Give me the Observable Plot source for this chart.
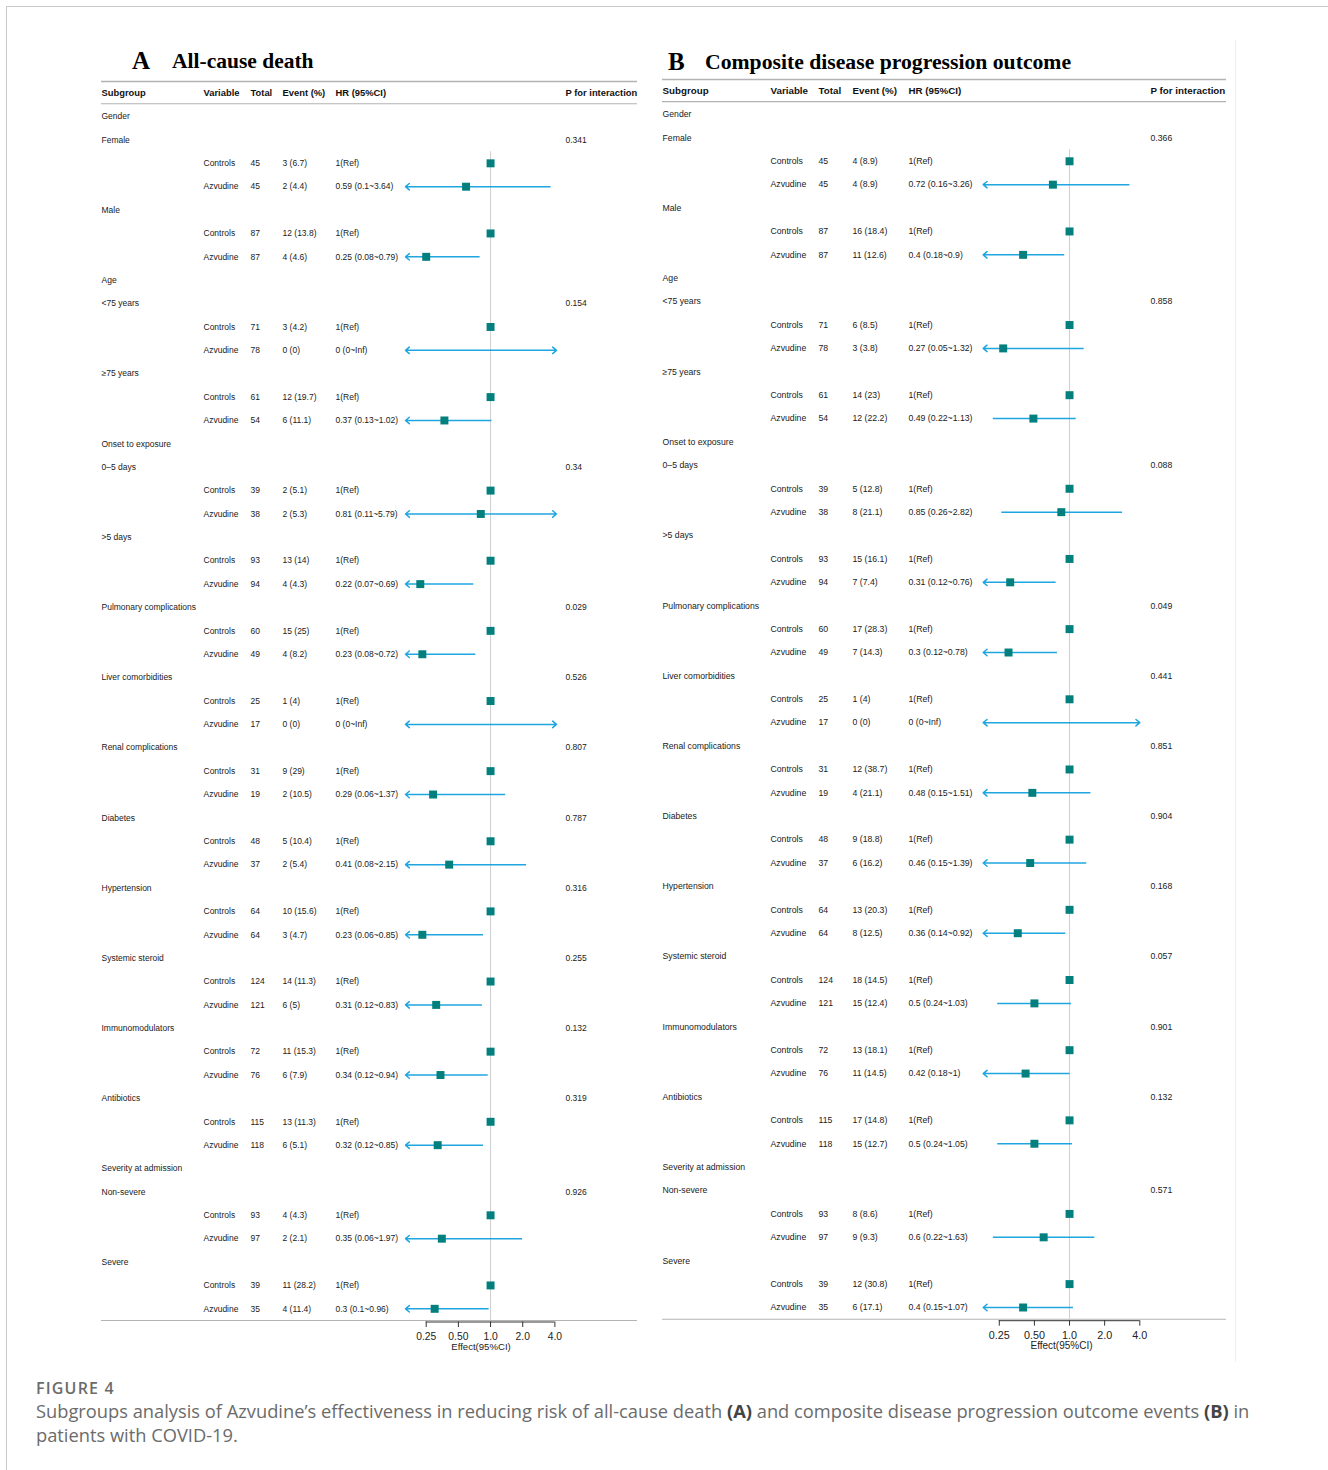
<!DOCTYPE html>
<html>
<head>
<meta charset="utf-8">
<script src="https://cdn.jsdelivr.net/npm/d3@7"></script>
<script src="https://cdn.jsdelivr.net/npm/@observablehq/plot@0.6"></script>
<style>
  html, body { margin: 0; padding: 0; background: #fff; }
  body { width: 1328px; height: 1470px; position: relative; overflow: hidden; }
  .abs { position: absolute; }
  .ttl { font-family: "Liberation Serif", "Times New Roman", serif; font-weight: bold; color: #000; white-space: nowrap; line-height: 1; }
  .cap { font-family: "Open Sans", "Noto Sans", sans-serif; color: #6b6b6b; white-space: nowrap; }
  .cap b { color: #444; font-weight: 700; }
</style>
</head>
<body>
<div class="abs" style="left:6px;top:6px;right:-2px;bottom:-2px;border-top:1.5px solid #c9c9c9;border-left:1.5px solid #c9c9c9;"></div>
<div class="abs" style="left:1235px;top:40px;width:1px;height:1322px;background:#eeeeee;"></div>

<div class="abs ttl" style="left:132px;top:48px;font-size:25px;">A</div>
<div class="abs ttl" style="left:172px;top:51px;font-size:21.5px;">All-cause death</div>
<div class="abs ttl" style="left:668px;top:49px;font-size:25px;">B</div>
<div class="abs ttl" style="left:705px;top:52px;font-size:21.7px;">Composite disease progression outcome</div>

<div id="pA" class="abs" style="left:95px;top:70px;"></div>
<div id="pB" class="abs" style="left:655px;top:68px;"></div>

<div class="abs cap" style="left:36px;top:1377px;font-size:16px;font-weight:600;letter-spacing:1.2px;">FIGURE 4</div>
<div class="abs cap" style="left:36px;top:1399px;font-size:18.3px;line-height:24px;">Subgroups analysis of Azvudine’s effectiveness in reducing risk of all-cause death <b>(A)</b> and composite disease progression outcome events <b>(B)</b> in<br>patients with COVID-19.</div>

<script>
// ---------- DATA ----------
const rowLabels = ["Gender","Female","","","Male","","","Age","<75 years","","","≥75 years","","",
  "Onset to exposure","0–5 days","","",">5 days","","","Pulmonary complications","","",
  "Liver comorbidities","","","Renal complications","","","Diabetes","","","Hypertension","","",
  "Systemic steroid","","","Immunomodulators","","","Antibiotics","","",
  "Severity at admission","Non-severe","","","Severe","",""];
const arms = ["Controls","Azvudine"];
const totals = [45,45,87,87,71,78,61,54,39,38,93,94,60,49,25,17,31,19,48,37,64,64,124,121,72,76,115,118,93,97,39,35];
const pRowNames = ["Female","<75 years","0–5 days","Pulmonary complications","Liver comorbidities","Renal complications",
  "Diabetes","Hypertension","Systemic steroid","Immunomodulators","Antibiotics","Non-severe"];
const headerLabels = ["Subgroup","Variable","Total","Event (%)","HR (95%CI)","P for interaction"];
const tickValues = [0.25, 0.5, 1, 2, 4];
const tickLabels = ["0.25","0.50","1.0","2.0","4.0"];
const axisLabel = "Effect(95%CI)";

// Panel A: all-cause death
const eventsA = ["3 (6.7)","2 (4.4)","12 (13.8)","4 (4.6)","3 (4.2)","0 (0)","12 (19.7)","6 (11.1)","2 (5.1)","2 (5.3)",
  "13 (14)","4 (4.3)","15 (25)","4 (8.2)","1 (4)","0 (0)","9 (29)","2 (10.5)","5 (10.4)","2 (5.4)","10 (15.6)","3 (4.7)",
  "14 (11.3)","6 (5)","11 (15.3)","6 (7.9)","13 (11.3)","6 (5.1)","4 (4.3)","2 (2.1)","11 (28.2)","4 (11.4)"];
const hrA = [0.59,0.25,0,0.37,0.81,0.22,0.23,0,0.29,0.41,0.23,0.31,0.34,0.32,0.35,0.3];
const loA = [0.1,0.08,0,0.13,0.11,0.07,0.08,0,0.06,0.08,0.06,0.12,0.12,0.12,0.06,0.1];
const hiA = [3.64,0.79,Infinity,1.02,5.79,0.69,0.72,Infinity,1.37,2.15,0.85,0.83,0.94,0.85,1.97,0.96];
const pA = ["0.341","0.154","0.34","0.029","0.526","0.807","0.787","0.316","0.255","0.132","0.319","0.926"];

// Panel B: composite disease progression outcome
const eventsB = ["4 (8.9)","4 (8.9)","16 (18.4)","11 (12.6)","6 (8.5)","3 (3.8)","14 (23)","12 (22.2)","5 (12.8)","8 (21.1)",
  "15 (16.1)","7 (7.4)","17 (28.3)","7 (14.3)","1 (4)","0 (0)","12 (38.7)","4 (21.1)","9 (18.8)","6 (16.2)","13 (20.3)","8 (12.5)",
  "18 (14.5)","15 (12.4)","13 (18.1)","11 (14.5)","17 (14.8)","15 (12.7)","8 (8.6)","9 (9.3)","12 (30.8)","6 (17.1)"];
const hrB = [0.72,0.4,0.27,0.49,0.85,0.31,0.3,0,0.48,0.46,0.36,0.5,0.42,0.5,0.6,0.4];
const loB = [0.16,0.18,0.05,0.22,0.26,0.12,0.12,0,0.15,0.15,0.14,0.24,0.18,0.24,0.22,0.15];
const hiB = [3.26,0.9,1.32,1.13,2.82,0.76,0.78,Infinity,1.51,1.39,0.92,1.03,1,1.05,1.63,1.07];
const pB = ["0.366","0.858","0.088","0.049","0.441","0.851","0.904","0.168","0.057","0.901","0.132","0.571"];

// ---------- BUILD ----------
const fmt = v => v === Infinity ? "Inf" : String(v);

function buildRows(events, hr, lo, hi, pvals) {
  const rows = [];
  let k = 0;
  rowLabels.forEach((lab, i) => {
    if (lab !== "") {
      const pi = pRowNames.indexOf(lab);
      rows.push({y: i, sub: lab, arm: "", total: "", event: "", hrText: "", p: pi >= 0 ? pvals[pi] : "", isArm: false});
    } else {
      const ctrl = k % 2 === 0, j = Math.floor(k / 2);
      const est = ctrl ? 1 : hr[j], l = ctrl ? 1 : lo[j], h = ctrl ? 1 : hi[j];
      rows.push({y: i, sub: "", arm: arms[k % 2], total: String(totals[k]), event: events[k],
        hrText: ctrl ? "1(Ref)" : `${fmt(est)} (${fmt(l)}~${fmt(h)})`, p: "", est, lo: l, hi: h, isArm: true, ctrl});
      k++;
    }
  });
  return rows;
}

function panel(cfg) {
  const rows = buildRows(cfg.events, cfg.hr, cfg.lo, cfg.hi, cfg.p);
  const [xmin, xmax] = cfg.domain;
  const pts = rows.filter(r => r.isArm && r.est > 0);
  const segs = [];
  rows.filter(r => r.isArm && !r.ctrl).forEach(r => {
    const c = r.est > 0 ? r.est : 1;
    segs.push({y: r.y, x1: c, x2: Math.max(r.lo, xmin), clipped: r.lo < xmin});
    segs.push({y: r.y, x1: c, x2: Math.min(r.hi, xmax), clipped: r.hi > xmax});
  });
  const plain = segs.filter(s => !s.clipped && s.x1 !== s.x2);
  const clipped = segs.filter(s => s.clipped);
  const ticks = tickValues.map((v, i) => ({v, label: tickLabels[i]}));
  const fields = ["sub","arm","total","event","hrText","p"];
  const font = "Liberation Sans, Arial, Helvetica, sans-serif";
  const textMarks = fields.map((f, i) => Plot.text(rows, {
    y: "y", text: f, frameAnchor: "left", dx: cfg.colDx[i], textAnchor: "start",
    fontSize: cfg.fs, fill: "#1a1a1a", fontFamily: font
  }));
  const headerMarks = headerLabels.map((h, i) => Plot.text([h], {
    y: () => -1, text: d => d, frameAnchor: "left", dx: cfg.colDx[i], textAnchor: "start",
    fontSize: cfg.hfs, fontWeight: "bold", fill: "#111", fontFamily: font
  }));
  const lineColor = "#1fa6e0";
  const yBottom = 51.5;
  return Plot.plot({
    width: cfg.width, height: cfg.height,
    marginLeft: cfg.ml, marginRight: cfg.mr, marginTop: cfg.mt, marginBottom: cfg.mb,
    style: {background: "transparent", fontFamily: font, fontSize: cfg.tfs + "px", color: "#222", overflow: "visible"},
    x: {type: "log", domain: cfg.domain, axis: null},
    y: {domain: [-1.5, yBottom], reverse: true, axis: null},
    marks: [
      Plot.ruleY([-1.5], {stroke: "#b3b3b3", strokeWidth: 1.5, insetLeft: cfg.insL, insetRight: cfg.insR}),
      Plot.ruleY([-0.55, yBottom], {stroke: "#b3b3b3", strokeWidth: 1.1, insetLeft: cfg.insL, insetRight: cfg.insR}),
      Plot.ruleX([1], {y1: 1.5, y2: yBottom, stroke: "#cfcfcf", strokeWidth: 1}),
      Plot.link(plain, {x1: "x1", x2: "x2", y1: "y", y2: "y", stroke: lineColor, strokeWidth: 1.5}),
      Plot.arrow(clipped, {x1: "x1", x2: "x2", y1: "y", y2: "y", stroke: lineColor, strokeWidth: 1.5, headLength: 5, headAngle: 80}),
      Plot.dot(pts, {x: "est", y: "y", symbol: "square", r: 4.5, fill: "#03807e"}),
      ...textMarks,
      ...headerMarks,
      // axis line, ticks and tick labels
      Plot.ruleY([yBottom], {x1: tickValues[0], x2: tickValues[tickValues.length - 1], stroke: "#333", strokeWidth: 1, dy: 1.5}),
      Plot.ruleX(ticks, {x: "v", y1: yBottom, y2: yBottom, insetTop: 1.5, insetBottom: -7, stroke: "#333", strokeWidth: 1}),
      Plot.text(ticks, {x: "v", text: "label", frameAnchor: "bottom", dy: 19.5, fontSize: cfg.tfs, fill: "#222", fontFamily: font}),
      Plot.text([axisLabel], {text: d => d, frameAnchor: "bottom", dy: 29.5, fontSize: cfg.lfs, fill: "#222", fontFamily: font})
    ]
  });
}

const plotA = panel({
  events: eventsA, hr: hrA, lo: loA, hi: hiA, p: pA, domain: [0.16, 4.14],
  width: 550, height: 1295, ml: 310, mr: 89, mt: 11, mb: 45,
  colDx: [-304, -202, -155, -123, -70, 160], insL: -304, insR: -81,
  fs: 8.5, hfs: 9.4, tfs: 10.3, lfs: 9.6
});
const plotB = panel({
  events: eventsB, hr: hrB, lo: loB, hi: hiB, p: pB, domain: [0.182, 4.0],
  width: 577, height: 1295.7, ml: 327.7, mr: 92.7, mt: 10.9, mb: 45,
  colDx: [-320.7, -212.7, -164.7, -130.7, -74.7, 167.3], insL: -320.7, insR: -86.7,
  fs: 8.7, hfs: 9.8, tfs: 10.8, lfs: 10
});
document.getElementById("pA").appendChild(plotA);
document.getElementById("pB").appendChild(plotB);
</script>
</body>
</html>
